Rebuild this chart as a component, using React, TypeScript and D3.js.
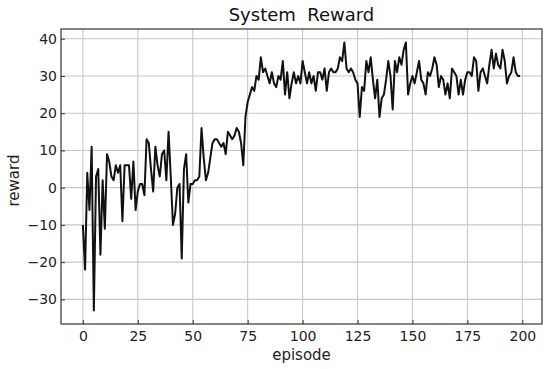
import React, { useEffect, useRef } from "react";
import * as d3 from "d3";

// reward per episode
const rewards0: number[] = [-10, -22, 4, -6, 11, -33, 3, 5, -18, 2, -11, 9, 7, 3, 2, 6, 4, 6, -9, 6, 6, 6, -3, 7, -6, -1, 1, 1, -2, 13, 12, 5, -1, 11, 6, 3, 9, 10, 2, 15, 3, -10, -7, 0, 1, -19, 5, 9, -4, 1];
const rewards50: number[] = [1, 2, 2, 3, 16, 8, 2, 4, 8, 12, 13, 13, 12, 11, 12, 9, 15, 14, 13, 14, 16, 15, 12, 6, 19, 23, 25, 27, 26, 30, 29, 35, 31, 32, 30, 28, 31, 28, 27, 30, 29, 34, 25, 31, 24, 28, 31, 28, 30, 28];
const rewards100: number[] = [34, 31, 28, 31, 28, 30, 26, 31, 31, 29, 32, 26, 31, 32, 31, 31, 32, 35, 34, 39, 32, 31, 32, 31, 29, 28, 19, 27, 26, 34, 31, 35, 29, 24, 29, 19, 24, 25, 29, 34, 30, 21, 34, 31, 35, 33, 37, 39, 25, 28];
const rewards150: number[] = [30, 28, 31, 34, 29, 28, 25, 31, 30, 32, 35, 33, 27, 30, 29, 25, 28, 24, 32, 31, 30, 25, 29, 25, 29, 31, 31, 30, 35, 34, 26, 31, 32, 30, 28, 33, 37, 32, 36, 33, 32, 37, 34, 28, 30, 31, 35, 31, 30, 30];

const xTicks: number[] = [0, 25, 50, 75, 100, 125, 150, 175, 200];
const yTicks: number[] = [-30, -20, -10, 0, 10, 20, 30, 40];

const W = 550;
const H = 369;

const App = () => {
  const svgRef = useRef<SVGSVGElement>(null);

  useEffect(() => {
    const rewards = [...rewards0, ...rewards50, ...rewards100, ...rewards150];
    const data = rewards.map((v, i) => ({ ep: i, v }));
    const margin = { top: 29, right: 8, bottom: 45, left: 61 };
    const font = "DejaVu Sans, sans-serif";

    const svg = d3.select(svgRef.current);
    svg.selectAll("*").remove();

    // matplotlib-like 5% padding
    const x = d3.scaleLinear().domain([-9.95, 208.95]).range([margin.left, W - margin.right]);
    const y = d3.scaleLinear().domain([-36.6, 42.6]).range([H - margin.bottom, margin.top]);

    svg.append("rect").attr("width", W).attr("height", H).attr("fill", "white");

    // grid
    const grid = svg.append("g").attr("stroke", "#c8c8c8").attr("stroke-width", 1.1);
    xTicks.forEach((t) => {
      grid.append("line").attr("x1", x(t)).attr("x2", x(t)).attr("y1", margin.top).attr("y2", H - margin.bottom);
    });
    yTicks.forEach((t) => {
      grid.append("line").attr("y1", y(t)).attr("y2", y(t)).attr("x1", margin.left).attr("x2", W - margin.right);
    });

    // line
    const line = d3
      .line<{ ep: number; v: number }>()
      .x((d) => x(d.ep))
      .y((d) => y(d.v));
    svg
      .append("path")
      .datum(data)
      .attr("d", line)
      .attr("fill", "none")
      .attr("stroke", "#111")
      .attr("stroke-width", 2)
      .attr("stroke-linejoin", "round");

    // axes with inward ticks
    const xAxis = svg
      .append("g")
      .attr("transform", `translate(0,${H - margin.bottom})`)
      .call(d3.axisBottom(x).tickValues(xTicks).tickSizeInner(-4).tickSizeOuter(0).tickPadding(7));
    const yAxis = svg
      .append("g")
      .attr("transform", `translate(${margin.left},0)`)
      .call(
        d3
          .axisLeft(y)
          .tickValues(yTicks)
          .tickSizeInner(-4)
          .tickSizeOuter(0)
          .tickPadding(4)
          .tickFormat((d) => d3.format("d")(d as number).replace("-", "\u2212"))
      );
    [xAxis, yAxis].forEach((g) => {
      g.select(".domain").remove();
      g.selectAll("line").attr("stroke", "#333");
      g.selectAll("text").attr("fill", "#222").style("font-size", "14px").style("font-family", font);
    });

    // frame
    svg
      .append("rect")
      .attr("x", margin.left)
      .attr("y", margin.top)
      .attr("width", W - margin.right - margin.left)
      .attr("height", H - margin.bottom - margin.top)
      .attr("fill", "none")
      .attr("stroke", "#333")
      .attr("stroke-width", 1.2);

    const cx = (margin.left + W - margin.right) / 2;
    svg
      .append("text")
      .attr("x", cx)
      .attr("y", 21)
      .attr("text-anchor", "middle")
      .attr("fill", "#111")
      .style("font-family", font)
      .style("font-size", "18px")
      .style("white-space", "pre")
      .text("System  Reward");

    svg
      .append("text")
      .attr("x", cx)
      .attr("y", 360)
      .attr("text-anchor", "middle")
      .attr("fill", "#222")
      .style("font-family", font)
      .style("font-size", "15px")
      .text("episode");

    svg
      .append("text")
      .attr("transform", `translate(19,${(margin.top + H - margin.bottom) / 2 + 4}) rotate(-90)`)
      .attr("text-anchor", "middle")
      .attr("fill", "#222")
      .style("font-family", font)
      .style("font-size", "15px")
      .text("reward");
  }, []);

  return <svg ref={svgRef} width={W} height={H} style={{ position: "absolute", left: 0, top: 0 }} />;
};

export default App;
